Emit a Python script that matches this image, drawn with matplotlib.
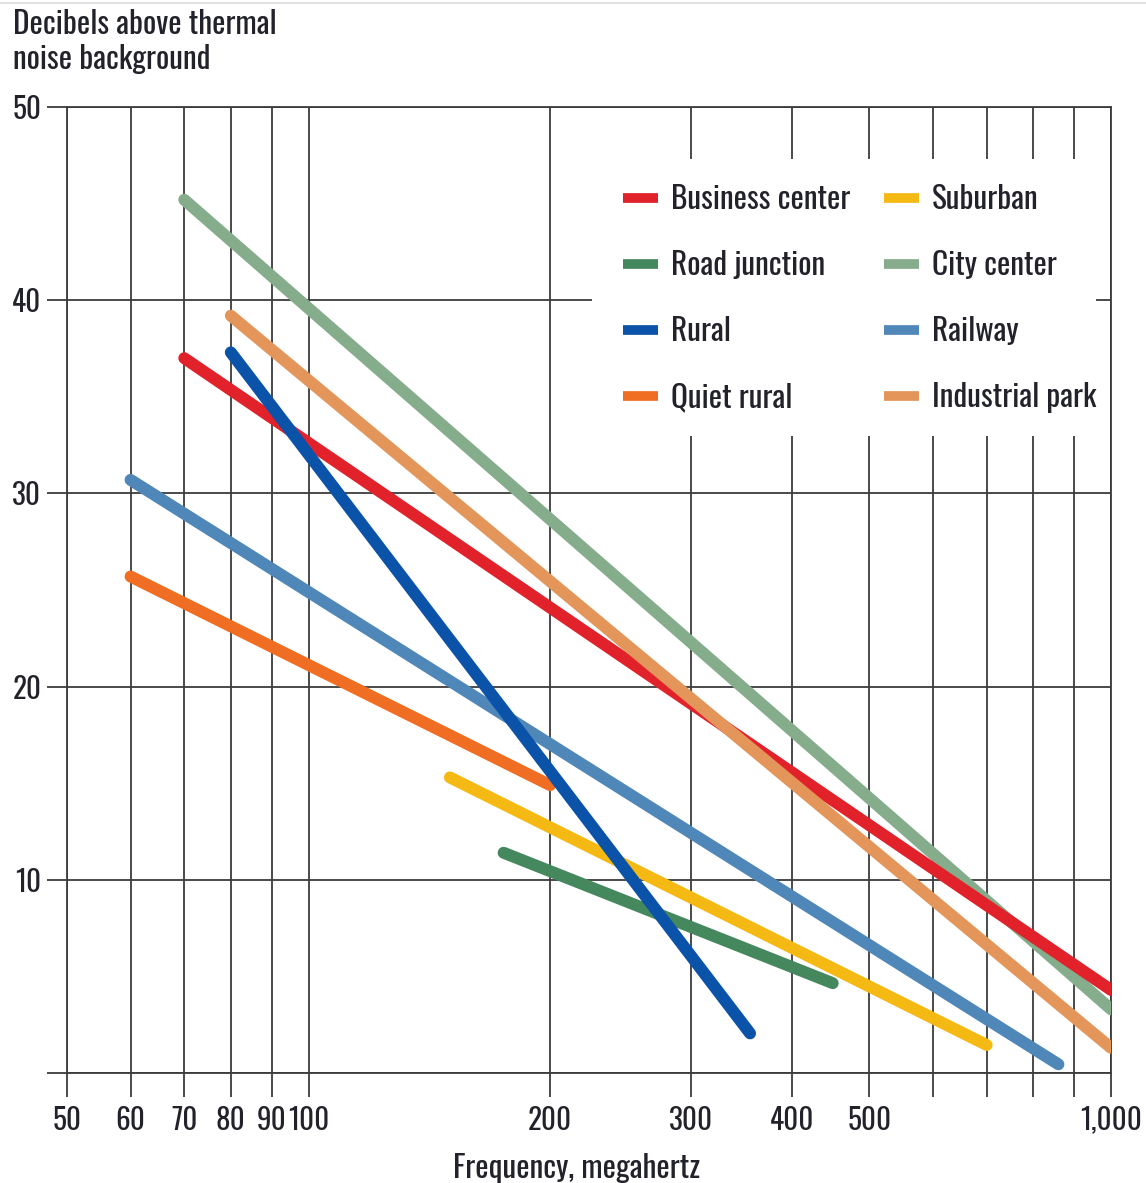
import numpy as np
import matplotlib
matplotlib.use('Agg')
import matplotlib.pyplot as plt
from matplotlib.lines import Line2D
from matplotlib.patches import Rectangle
from matplotlib.ticker import FixedLocator, NullLocator

plt.rcParams['font.family'] = ['Oswald', 'Roboto Condensed', 'Liberation Sans', 'DejaVu Sans']

# noise curves: (start freq, end freq) in MHz and (start dB, end dB)
city_center_f = [70, 1000]
city_center_db = [45.2, 3.3]
railway_f = [60, 860]
railway_db = [30.7, 0.45]
quiet_rural_f = [60, 200]
quiet_rural_db = [25.7, 14.9]
road_junction_f = [175, 450]
road_junction_db = [11.4, 4.65]
suburban_f = [150, 700]
suburban_db = [15.3, 1.45]
business_f = [70, 1000]
business_db = [37.0, 4.3]
industrial_f = [80, 1000]
industrial_db = [39.2, 1.3]
rural_f = [80, 355]
rural_db = [37.3, 2.05]

x_ticks = [50, 60, 70, 80, 90, 100, 200, 300, 400, 500, 600, 700, 800, 900, 1000]
x_labels = ['50', '60', '70', '80', '90', '100', '200', '300', '400', '500',
            '', '', '', '', '1,000']
y_ticks = [0, 10, 20, 30, 40, 50]
y_labels = ['', '10', '20', '30', '40', '50']

# drawing order matters where lines cross
series = [
    ('City center', city_center_f, city_center_db, '#85ad8c'),
    ('Railway', railway_f, railway_db, '#4f87b9'),
    ('Quiet rural', quiet_rural_f, quiet_rural_db, '#f06e23'),
    ('Road junction', road_junction_f, road_junction_db, '#45885e'),
    ('Suburban', suburban_f, suburban_db, '#f5b914'),
    ('Business center', business_f, business_db, '#e1222b'),
    ('Industrial park', industrial_f, industrial_db, '#e4965a'),
    ('Rural', rural_f, rural_db, '#0b53a8'),
]
legend_order = ['Business center', 'Road junction', 'Rural', 'Quiet rural',
                'Suburban', 'City center', 'Railway', 'Industrial park']

grid_c = '#3c3c3c'
text_c = '#22222a'
fs = 22.5      # titles and legend
fs_tick = 21

fig = plt.figure(figsize=(11.46, 11.83), dpi=100)
ax = fig.add_axes([67 / 1146, 110 / 1183, 1044 / 1146, 966 / 1183])

colors = {}
for name, f, db, c in series:
    ax.plot(f, db, color=c, lw=8.6, solid_capstyle='round', zorder=3)
    colors[name] = c

ax.set_xscale('log')
ax.set_xlim(50, 1000)
ax.set_ylim(0, 50)
ax.xaxis.set_major_locator(FixedLocator(x_ticks))
ax.xaxis.set_minor_locator(NullLocator())
ax.set_xticklabels(x_labels)
ax.set_yticks(y_ticks)
ax.set_yticklabels(y_labels)

ax.set_axisbelow(True)
ax.grid(True, color=grid_c, lw=1.3)
for s in ax.spines.values():
    s.set_color(grid_c)
    s.set_linewidth(1.3)

ax.tick_params(axis='y', length=14.5, width=1.3, color=grid_c, pad=4,
               labelsize=fs_tick, labelcolor=text_c)
ax.tick_params(axis='x', length=17, width=1.3, color=grid_c, pad=6.5,
               labelsize=fs_tick, labelcolor=text_c)

ax.set_xlabel('Frequency, megahertz', fontsize=fs, color=text_c)
ax.xaxis.set_label_coords(0.4885, -0.083)

# white panel behind the legend hides the grid
ax.add_patch(Rectangle((0.503, 0.659), 0.483, 0.287, transform=ax.transAxes,
                       facecolor='white', edgecolor='none', zorder=1))
handles = [Line2D([], [], color=colors[n], lw=7, solid_capstyle='butt')
           for n in legend_order]
ax.legend(handles, legend_order, ncol=2, frameon=False, fontsize=fs,
          labelcolor=text_c, loc='center left', bbox_to_anchor=(0.5326, 0.802),
          handlelength=1.12, handletextpad=0.4, columnspacing=1.1,
          labelspacing=1.12, borderaxespad=0, borderpad=0)

fig.text(13 / 1146, 1 - 9 / 1183, 'Decibels above thermal\nnoise background',
         ha='left', va='top', fontsize=fs, color=text_c, linespacing=1.17)
fig.add_artist(Line2D([0, 1], [1 - 3 / 1183, 1 - 3 / 1183], color='#dddddd', lw=1.2))

fig.savefig('out.png', dpi=100)
